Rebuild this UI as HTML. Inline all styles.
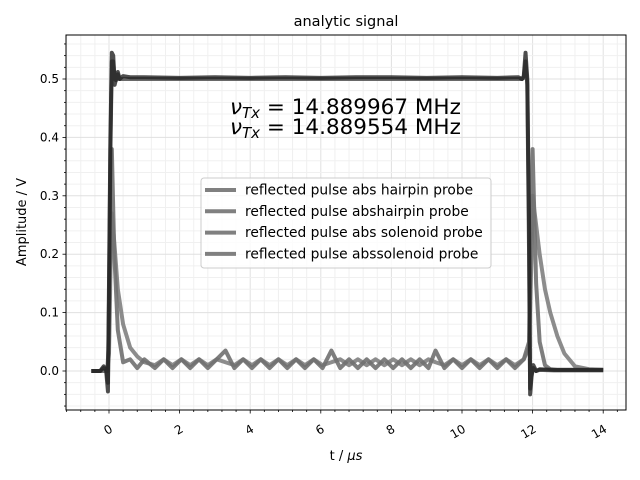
<!DOCTYPE html>
<html><head><meta charset="utf-8"><style>
body{margin:0;background:#fff;font-family:"DejaVu Sans","Liberation Sans",sans-serif}
svg{display:block}
</style></head><body>
<svg id="c" width="640" height="480" xmlns="http://www.w3.org/2000/svg"></svg>
<script>
const stepT=[-0.5,-0.25,-0.15,-0.08,-0.03,0,0.04,0.08,0.12,0.16,0.2,0.25,0.3,0.4,0.6,1,2,3,4,5,6,7,8,9,10,11,11.6,11.7,11.75,11.8,11.85,11.9,11.93,11.97,12.02,12.1,12.2,12.6,13,14];
const stepA=[0.0,0.0,0.008,0.0,-0.035,0.15,0.4,0.545,0.54,0.49,0.5,0.512,0.5,0.505,0.503,0.503,0.502,0.503,0.502,0.503,0.502,0.503,0.503,0.502,0.503,0.502,0.503,0.5,0.505,0.545,0.5,0.25,-0.04,-0.01,0.01,0.0,0.003,0.002,0.002,0.002];
const stepB=[0.0,0.0,0.005,0.003,-0.02,0.12,0.38,0.53,0.53,0.5,0.498,0.508,0.5,0.5,0.5,0.5,0.5,0.5,0.5,0.5,0.5,0.5,0.5,0.5,0.5,0.5,0.5,0.5,0.502,0.53,0.49,0.2,-0.03,-0.005,0.005,0.0,0.002,0.001,0.001,0.001];
const decT=[-0.5,-0.2,-0.05,0.0,0.05,0.08,0.15,0.25,0.4,0.6,0.8,1.0,1.3,1.55,1.8,2.05,2.3,2.55,2.8,3.05,3.3,3.55,3.8,4.05,4.3,4.55,4.8,5.05,5.3,5.55,5.8,6.05,6.3,6.55,6.8,7.05,7.3,7.55,7.8,8.05,8.3,8.55,8.8,9.05,9.25,9.5,9.75,10.0,10.25,10.5,10.75,11.0,11.25,11.5,11.75,11.9,11.97,12.0,12.1,12.2,12.35,12.5,12.7,12.9,13.2,13.6,14];
const decA=[0,0,0.0,0.05,0.3,0.38,0.2,0.07,0.015,0.02,0.005,0.02,0.005,0.02,0.005,0.02,0.005,0.02,0.005,0.02,0.035,0.005,0.02,0.005,0.02,0.005,0.02,0.005,0.02,0.005,0.02,0.005,0.035,0.005,0.02,0.005,0.02,0.005,0.02,0.005,0.02,0.005,0.02,0.005,0.035,0.005,0.02,0.005,0.02,0.005,0.02,0.005,0.02,0.005,0.02,0.05,0.3,0.38,0.15,0.05,0.01,0.003,0.002,0.002,0.002,0.002,0.002];
const decB=[0,0,0.0,0.03,0.2,0.27,0.22,0.14,0.08,0.04,0.025,0.015,0.01,0.02,0.01,0.02,0.01,0.02,0.01,0.02,0.015,0.01,0.02,0.01,0.02,0.01,0.02,0.01,0.02,0.01,0.02,0.01,0.015,0.02,0.01,0.02,0.01,0.02,0.01,0.02,0.01,0.02,0.01,0.02,0.015,0.01,0.02,0.01,0.02,0.01,0.02,0.01,0.02,0.01,0.02,0.04,0.2,0.3,0.25,0.2,0.14,0.1,0.06,0.03,0.008,0.003,0.002];
const xTicks=[0,2,4,6,8,10,12,14];
const yTicks=[0.0,0.1,0.2,0.3,0.4,0.5];
const legendLabels=["reflected pulse abs hairpin probe","reflected pulse abshairpin probe","reflected pulse abs solenoid probe","reflected pulse abssolenoid probe"];

const NS="http://www.w3.org/2000/svg",svg=document.getElementById('c');
const L=66,R=626,T=35,B=410;
const X=v=>109+v*35.3, Y=v=>371-v*584;
function mk(tag,at,parent){const e=document.createElementNS(NS,tag);for(const k in at)e.setAttribute(k,at[k]);(parent||svg).appendChild(e);return e;}
for(let i=-3;i<=36;i++){const v=i*0.4,x=X(v);const major=i%5===0;
 const g=mk('line',{x1:x,x2:x,y1:T,y2:B,stroke:major?'#e0e0e0':'#f0f0f0','stroke-width':1});
 
 const t=mk('line',{x1:x,x2:x,y1:B,y2:B+(major?3.5:2),stroke:'#000','stroke-width':0.8});
 }
for(let i=-3;i<=28;i++){const v=i*0.02,y=Y(v);const major=i%5===0;
 const g=mk('line',{x1:L,x2:R,y1:y,y2:y,stroke:major?'#e0e0e0':'#f0f0f0','stroke-width':1});
 
 const t=mk('line',{x1:L-(major?3.5:2),x2:L,y1:y,y2:y,stroke:'#000','stroke-width':0.8});
 }
xTicks.forEach(v=>{const t=mk('text',{x:X(v)+2,y:B+22,'font-size':12,'text-anchor':'end',transform:`rotate(-30 ${X(v)+2} ${B+17})`});t.textContent=v;
 });
yTicks.forEach(v=>{const t=mk('text',{x:L-7,y:Y(v)+4,'font-size':12,'text-anchor':'end'});t.textContent=v.toFixed(1);
 });
const series=[[decT,decB,'#808080',0.9],[decT,decA,'#707070',0.9],[stepT,stepB,'#444',0.8],[stepT,stepA,'#222',0.8]];
series.forEach((s,i)=>{const p=mk('polyline',{points:s[0].map((t,j)=>X(t)+','+Y(s[1][j])).join(' '),fill:'none',stroke:s[2],'stroke-width':4,'stroke-opacity':s[3],'stroke-linejoin':'round'});
 });
const fr=mk('rect',{x:L,y:T,width:R-L,height:B-T,fill:'none',stroke:'#000','stroke-width':1});

const tt=mk('text',{x:346,y:26,'font-size':14.5,'text-anchor':'middle'});tt.textContent='analytic signal';

const xl=mk('text',{x:346,y:460,'font-size':13,'text-anchor':'middle'});xl.innerHTML='t / <tspan font-style="italic">μs</tspan>';

const yl=mk('text',{x:26,y:222,'font-size':13,'text-anchor':'middle',transform:'rotate(-90 26 222)'});yl.textContent='Amplitude / V';

['14.889967','14.889554'].forEach((f,i)=>{const t=mk('text',{x:230,y:114+i*20,'font-size':21.5});
 t.innerHTML='<tspan font-style="italic">ν</tspan><tspan font-size="15" dy="4" font-style="italic">Tx</tspan><tspan dy="-4"> = '+f+' MHz</tspan>';
 });
const lg=mk('g',{});
mk('rect',{x:201,y:178,width:290,height:90,rx:3,fill:'#fff','fill-opacity':0.8,stroke:'#ccc'},lg);
legendLabels.forEach((s,i)=>{const y=190+i*21.3;
 const l=mk('line',{x1:205,x2:236,y1:y,y2:y,stroke:'#808080','stroke-width':4},lg);
 
 const t=mk('text',{x:245,y:y+4.5,'font-size':13.8},lg);t.textContent=s;
 });
</script>
</body></html>
